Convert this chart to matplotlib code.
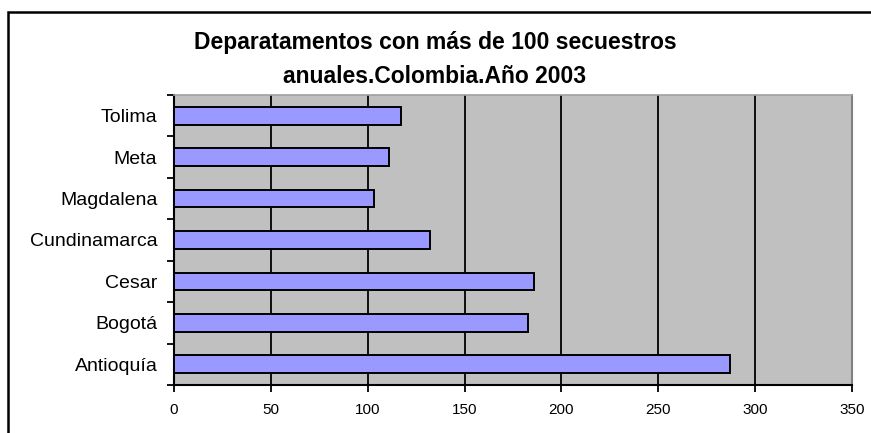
import matplotlib
matplotlib.use("Agg")
import matplotlib.pyplot as plt
from matplotlib.patches import Rectangle

departamentos = ["Antioquía", "Bogotá", "Cesar", "Cundinamarca", "Magdalena", "Meta", "Tolima"]
secuestros = [287, 183, 186, 132, 103, 111, 117]
x_ticks = [0, 50, 100, 150, 200, 250, 300, 350]
titulo = ["Deparatamentos con más de 100 secuestros", "anuales.Colombia.Año 2003"]

W, H, DPI = 871, 433, 100
plt.rcParams["font.family"] = ["Liberation Sans", "DejaVu Sans"]

fig = plt.figure(figsize=(W / DPI, H / DPI), dpi=DPI)
fig.patch.set_facecolor("white")

# outer chart frame (runs past the right and bottom edges)
fig.add_artist(Rectangle((8 / W, -0.2), 1.2, 1 - 11.5 / H + 0.2,
                         transform=fig.transFigure, fill=False,
                         edgecolor="black", linewidth=1.8, clip_on=False))

left, right, top, bottom = 174, 852, 95, 385
ax = fig.add_axes([left / W, 1 - bottom / H, (right - left) / W, (bottom - top) / H])
ax.set_facecolor("#C0C0C0")

ypos = list(range(len(departamentos)))
ax.barh(ypos, secuestros, height=0.43, color="#9999FF",
        edgecolor="black", linewidth=1.4, zorder=3)

ax.set_xlim(0, 350)
ax.set_ylim(-0.5, len(departamentos) - 0.5)
ax.set_xticks(x_ticks)
ax.set_xticklabels([str(v) for v in x_ticks], fontsize=11)
for v in x_ticks[1:-1]:
    ax.axvline(v, color="black", linewidth=1.3, zorder=1)

# category labels between boundary ticks
ax.set_yticks(ypos)
ax.set_yticklabels(departamentos, fontsize=14)
ax.tick_params(axis="y", which="major", length=0, pad=12)
ax.set_yticks([i - 0.5 for i in range(len(departamentos) + 1)], minor=True)
ax.tick_params(axis="y", which="minor", length=5, width=1.3, direction="out")
ax.tick_params(axis="x", length=5, width=1.3, direction="out", pad=8)

for s in ("left", "bottom"):
    ax.spines[s].set_color("black")
    ax.spines[s].set_linewidth(1.5)
ax.spines["top"].set_color("#A0A0A0")
ax.spines["right"].set_color("#808080")
ax.spines["top"].set_linewidth(1.2)
ax.spines["right"].set_linewidth(1.5)

for linea, base in zip(titulo, (49, 83)):
    fig.text(435 / W, 1 - base / H, linea, ha="center", va="baseline",
             fontsize=16.5, fontweight="bold")

fig.savefig("out.png", dpi=DPI)
